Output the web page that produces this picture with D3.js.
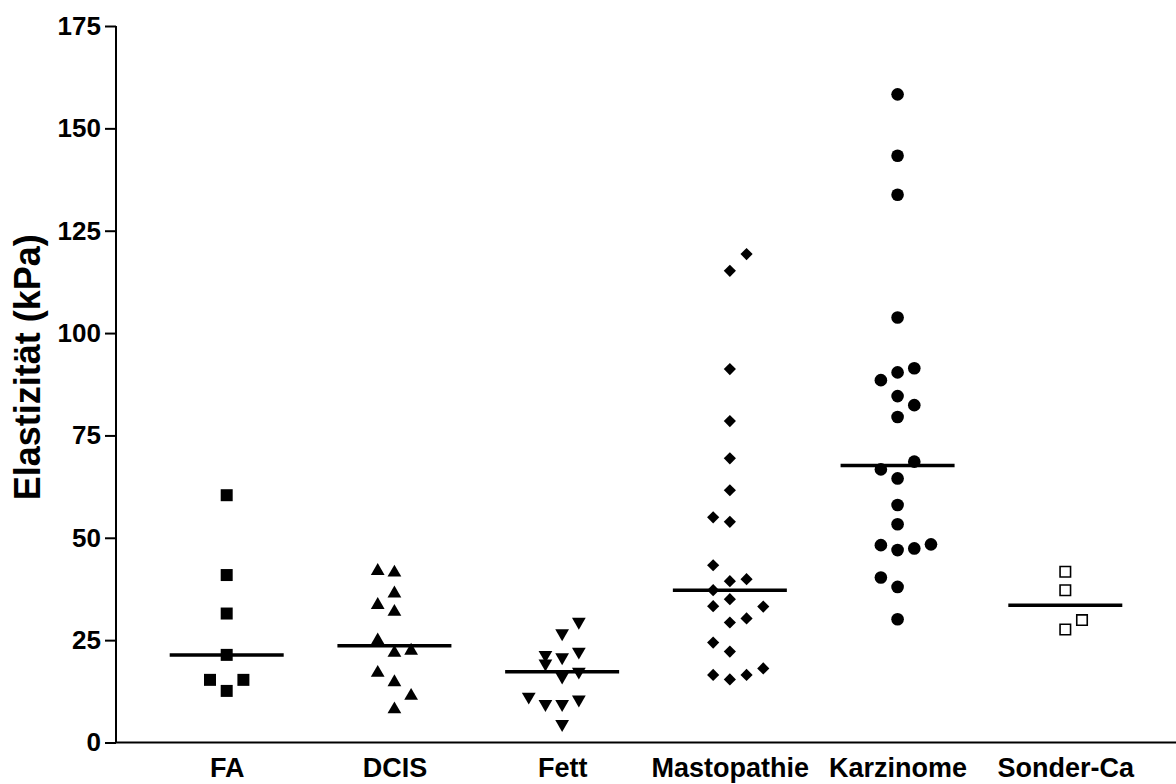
<!DOCTYPE html>
<html>
<head>
<meta charset="utf-8">
<script src="https://cdn.jsdelivr.net/npm/d3@7"></script>
<style>
  body { margin: 0; background: #fff; }
  text { font-family: Arial, "Liberation Sans", sans-serif; font-weight: bold; fill: #000; }
</style>
</head>
<body>
<script>
// categories (x axis)
const categories = ['FA', 'DCIS', 'Fett', 'Mastopathie', 'Karzinome', 'Sonder-Ca'];

// Elastizität values per group (kPa)
const faValues = [60.4, 40.9, 31.5, 21.4, 15.3, 15.3, 12.6];
const dcisValues = [41.9, 41.5, 36.4, 33.6, 31.9, 24.9, 21.9, 22.4, 17.0, 14.7, 11.4, 8.1];
const fettValues = [29.5, 26.7, 21.4, 19.3, 20.8, 22.2, 17.3, 16.1, 11.2, 9.4, 9.4, 10.5, 4.5];
const mastoValues = [119.3, 115.2, 91.2, 78.5, 69.4, 61.6, 55.0, 53.9, 43.3, 39.4, 39.9, 37.2, 35.0,
    33.3, 33.2, 30.3, 29.3, 24.4, 22.2, 16.5, 15.4, 16.5, 18.1];
const karzValues = [158.3, 143.3, 133.8, 103.8, 91.4, 90.4, 88.5, 84.6, 82.4, 79.5, 68.6, 66.7, 64.5,
    58.0, 53.3, 48.2, 47.0, 47.4, 48.4, 40.3, 38.0, 30.1];
const sonderValues = [41.7, 37.2, 29.9, 27.6];

// which scatter column each point sits in (0 = middle, -1 left, +1 right ...)
const faCols = [0, 0, 0, 0, -1, 1, 0];
const dcisCols = [-1, 0, 0, -1, 0, -1, 0, 1, -1, 0, 1, 0];
const fettCols = [1, 0, -1, -1, 0, 1, 1, 0, -2, -1, 0, 1, 0];
const mastoCols = [1, 0, 0, 0, 0, 0, -1, 0, -1, 0, 1, -1, 0, -1, 2, 1, 0, -1, 0, -1, 0, 1, 2];
const karzCols = [0, 0, 0, 0, 1, 0, -1, 0, 1, 0, 1, -1, 0, 0, 0, -1, 0, 1, 2, -1, 0, 0];
const sonderCols = [0, 0, 1, 0];

const yTicks = [0, 25, 50, 75, 100, 125, 150, 175];

const groups = [
    {name: 'FA', values: faValues, cols: faCols},
    {name: 'DCIS', values: dcisValues, cols: dcisCols},
    {name: 'Fett', values: fettValues, cols: fettCols},
    {name: 'Mastopathie', values: mastoValues, cols: mastoCols},
    {name: 'Karzinome', values: karzValues, cols: karzCols},
    {name: 'Sonder-Ca', values: sonderValues, cols: sonderCols}
];

const svgWid = 1176;
const svgHt = 784;
const margin = {top: 26, right: 0, bottom: 41.5, left: 116};

const svg = d3.select('body').append('svg').attr('width', svgWid).attr('height', svgHt);

var xScale = d3.scalePoint().domain(categories).range([margin.left, svgWid - margin.right]).padding(0.66);
var yScale = d3.scaleLinear().domain([0, 175]).range([svgHt - margin.bottom, margin.top]);

const colStep = 16.7; // spacing between scatter columns
const medianHalf = 57;

// symbol for each group
var shapes = {
    'FA': d3.symbol().type(d3.symbolSquare).size(144)(),
    'DCIS': d3.symbol().type(d3.symbolTriangle).size(82)(),
    'Fett': d3.symbol().type(d3.symbolTriangle).size(82)(),
    'Mastopathie': d3.symbol().type(d3.symbolSquare).size(74)(),
    'Karzinome': d3.symbol().type(d3.symbolCircle).size(125)(),
    'Sonder-Ca': d3.symbol().type(d3.symbolSquare).size(110)()
};
var rotate = {'Fett': 180, 'Mastopathie': 45};

// y axis
const yAxisG = svg.append('g').attr('transform', `translate(${margin.left},0)`)
    .call(d3.axisLeft(yScale).tickValues(yTicks).tickSize(11).tickPadding(4));
yAxisG.select('.domain').attr('stroke', '#000').attr('stroke-width', 2)
    .attr('d', `M0,${yScale(175)}V${yScale(0)}`);
yAxisG.selectAll('.tick line').attr('stroke', '#000').attr('stroke-width', 2);
yAxisG.selectAll('.tick text').attr('font-size', 26).attr('font-family', null);

// x axis (no tick marks)
const xAxisG = svg.append('g').attr('transform', `translate(0,${yScale(0)})`)
    .call(d3.axisBottom(xScale).tickSize(0).tickPadding(15));
xAxisG.select('.domain').attr('stroke', '#000').attr('stroke-width', 2)
    .attr('d', `M${margin.left},0H${svgWid}`);
xAxisG.selectAll('.tick text').attr('font-size', 27).attr('font-family', null).attr('dy', '0.71em');

// y label
svg.append('text').text('Elastizität (kPa)')
    .attr('transform', `translate(40,${(yScale(0) + yScale(175)) / 2 - 17}) rotate(-90)`)
    .attr('text-anchor', 'middle').attr('font-size', 36);

// points
groups.forEach(g => {
    const pts = g.values.map((v, i) => ({v: v, c: g.cols[i]}));
    const cx = xScale(g.name);
    const open = g.name === 'Sonder-Ca';
    svg.append('g').selectAll('path').data(pts).enter()
        .append('path')
        .attr('d', shapes[g.name])
        .attr('transform', d => `translate(${cx + d.c * colStep},${yScale(d.v)}) rotate(${rotate[g.name] || 0})`)
        .attr('fill', open ? '#fff' : '#000')
        .attr('stroke', open ? '#000' : 'none')
        .attr('stroke-width', 1.6);

    // median line
    const med = d3.median(g.values);
    svg.append('line')
        .attr('x1', cx - medianHalf).attr('x2', cx + medianHalf)
        .attr('y1', yScale(med)).attr('y2', yScale(med))
        .attr('stroke', '#000').attr('stroke-width', 3.5);
});
</script>
</body>
</html>
